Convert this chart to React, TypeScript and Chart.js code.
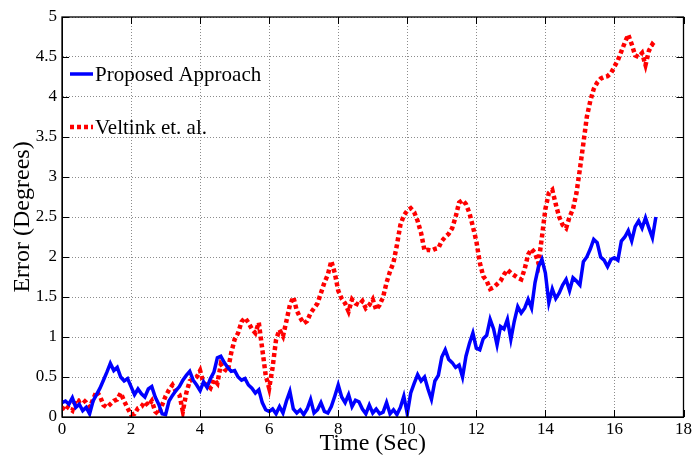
import { useEffect, useRef } from "react";
import { Chart, registerables } from "chart.js";

Chart.register(...registerables);

// sampling interval of the recorded series (seconds)
const SAMPLE_STEP = 0.1;

// Error (degrees) of the proposed approach, sampled every 0.1 s from t = 0
const proposedApproach = [
  0.18, 0.2, 0.16, 0.24, 0.12, 0.16, 0.08, 0.12, 0.04, 0.2,
  0.28, 0.36, 0.46, 0.56, 0.67, 0.58, 0.62, 0.5, 0.45, 0.48,
  0.38, 0.28, 0.35, 0.29, 0.25, 0.35, 0.38, 0.25, 0.16, 0.04,
  0.03, 0.2, 0.27, 0.33, 0.38, 0.46, 0.52, 0.57, 0.46, 0.4,
  0.33, 0.44, 0.37, 0.48, 0.56, 0.74, 0.76, 0.68, 0.62, 0.57,
  0.58, 0.5, 0.46, 0.48, 0.4, 0.36, 0.3, 0.34, 0.18, 0.09,
  0.07, 0.1, 0.04, 0.13, 0.05, 0.2, 0.32, 0.1, 0.05, 0.09,
  0.03, 0.1, 0.22, 0.05, 0.09, 0.18, 0.07, 0.05, 0.13, 0.26,
  0.4, 0.25, 0.18, 0.28, 0.13, 0.21, 0.19, 0.1, 0.04, 0.15,
  0.05, 0.1, 0.04, 0.06, 0.18, 0.04, 0.09, 0.03, 0.12, 0.26,
  0.04, 0.3, 0.42, 0.53, 0.45, 0.5, 0.35, 0.22, 0.45, 0.52,
  0.75, 0.84, 0.72, 0.68, 0.62, 0.65, 0.5, 0.76, 0.92, 1.05,
  0.86, 0.84, 0.98, 1.02, 1.22, 1.1, 0.9, 1.13, 1.1, 1.22,
  0.97, 1.2, 1.38, 1.3, 1.36, 1.47, 1.36, 1.68, 1.88, 1.97,
  1.8, 1.43, 1.6, 1.48, 1.55, 1.65, 1.72, 1.58, 1.74, 1.7,
  1.65, 1.94, 2.0, 2.1, 2.22, 2.18, 2.0, 1.96, 1.88, 1.97,
  1.99, 1.96, 2.2, 2.25, 2.33, 2.2, 2.38, 2.45, 2.36, 2.49,
  2.36, 2.24, 2.5,
];

// Error (degrees) of Veltink et. al., sampled every 0.1 s from t = 0
const veltinkEtAl = [
  0.09, 0.15, 0.11, 0.08, 0.22, 0.2, 0.22, 0.18, 0.12, 0.22,
  0.32, 0.26, 0.15, 0.12, 0.16, 0.2, 0.22, 0.3, 0.2, 0.11,
  0.03, 0.04, 0.11, 0.13, 0.19, 0.14, 0.2, 0.07, 0.03, 0.15,
  0.26, 0.34, 0.4, 0.32, 0.28, 0.07, 0.3, 0.45, 0.47, 0.5,
  0.58, 0.42, 0.4, 0.36, 0.47, 0.42, 0.66, 0.6, 0.57, 0.8,
  0.97, 1.05, 1.19, 1.24, 1.18, 1.1, 1.05, 1.18, 0.85, 0.52,
  0.36, 0.62, 0.97, 1.09, 1.01, 1.2, 1.4, 1.5, 1.33, 1.24,
  1.17, 1.2, 1.3, 1.36, 1.42, 1.55, 1.68, 1.78, 1.95, 1.8,
  1.58, 1.48, 1.42, 1.32, 1.47, 1.42, 1.4, 1.45, 1.36, 1.4,
  1.47, 1.34, 1.4, 1.5, 1.68, 1.82, 1.93, 2.15, 2.4, 2.52,
  2.58, 2.61, 2.56, 2.45, 2.3, 2.08, 2.09, 2.08, 2.1, 2.11,
  2.2, 2.25, 2.29, 2.36, 2.5, 2.68, 2.71, 2.66, 2.55, 2.38,
  2.2, 1.93, 1.76, 1.7, 1.6, 1.62, 1.66, 1.7, 1.78, 1.84,
  1.8, 1.77, 1.74, 1.72, 1.85, 2.03, 2.1, 2.05, 1.92, 2.25,
  2.6, 2.8, 2.84, 2.66, 2.5, 2.4, 2.36, 2.5, 2.6, 2.8,
  3.1, 3.42, 3.75, 3.95, 4.1, 4.18, 4.23, 4.25, 4.26, 4.3,
  4.38, 4.46, 4.57, 4.68, 4.78, 4.66, 4.52, 4.5, 4.55, 4.4,
  4.58, 4.66, 4.62,
];

const seriesLabels = ["Proposed Approach", "Veltink et. al."];
const xTickValues = [0, 2, 4, 6, 8, 10, 12, 14, 16, 18];
const yTickValues = [0, 0.5, 1, 1.5, 2, 2.5, 3, 3.5, 4, 4.5, 5];

const FONT = "'Liberation Serif', 'Times New Roman', serif";

function toPoints(values: number[]) {
  return values.map((v, i) => ({ x: Math.round(i * SAMPLE_STEP * 10) / 10, y: v }));
}

const boxAndTicksPlugin = {
  id: "boxAndTicks",
  afterDraw(chart: any) {
    const { ctx, chartArea } = chart;
    const { left, right, top, bottom } = chartArea;
    const xs = chart.scales.x;
    const ys = chart.scales.y;
    const len = 7;
    ctx.save();
    ctx.strokeStyle = "#000";
    ctx.lineWidth = 1;
    ctx.beginPath();
    xTickValues.forEach((v) => {
      const px = Math.round(xs.getPixelForValue(v)) + 0.5;
      ctx.moveTo(px, bottom);
      ctx.lineTo(px, bottom - len);
      ctx.moveTo(px, top);
      ctx.lineTo(px, top + len);
    });
    yTickValues.forEach((v) => {
      const py = Math.round(ys.getPixelForValue(v)) + 0.5;
      ctx.moveTo(left, py);
      ctx.lineTo(left + len, py);
      ctx.moveTo(right, py);
      ctx.lineTo(right - len, py);
    });
    ctx.stroke();
    ctx.lineWidth = 1.3;
    ctx.strokeRect(left, top, right - left, bottom - top);
    ctx.restore();
  },
};

const insideLegendPlugin = {
  id: "insideLegend",
  afterDraw(chart: any) {
    const { ctx, chartArea } = chart;
    const x0 = chartArea.left + 8;
    const rows = [74, 127];
    ctx.save();
    chart.data.datasets.forEach((ds: any, i: number) => {
      const y = rows[i];
      ctx.beginPath();
      ctx.strokeStyle = ds.borderColor;
      ctx.lineWidth = ds.borderWidth;
      ctx.setLineDash(ds.borderDash || []);
      ctx.lineCap = "butt";
      ctx.moveTo(x0, y);
      ctx.lineTo(x0 + 23, y);
      ctx.stroke();
      ctx.setLineDash([]);
      ctx.fillStyle = "#000";
      ctx.font = `21px ${FONT}`;
      ctx.textBaseline = "middle";
      ctx.textAlign = "left";
      ctx.fillText(ds.label, x0 + 25, y + 1);
    });
    ctx.restore();
  },
};

export default function App() {
  const canvasRef = useRef<HTMLCanvasElement | null>(null);

  useEffect(() => {
    if (!canvasRef.current) return;
    const chart = new Chart(canvasRef.current, {
      type: "line",
      data: {
        datasets: [
          {
            label: seriesLabels[0],
            data: toPoints(proposedApproach),
            borderColor: "#0000ff",
            borderWidth: 3.5,
            pointRadius: 0,
            tension: 0,
            fill: false,
          },
          {
            label: seriesLabels[1],
            data: toPoints(veltinkEtAl),
            borderColor: "#ff0000",
            borderWidth: 4.5,
            borderDash: [4, 3],
            borderCapStyle: "butt",
            pointRadius: 0,
            tension: 0,
            fill: false,
          },
        ],
      },
      options: {
        animation: false,
        responsive: false,
        layout: { padding: { top: 17, right: 7, left: 0, bottom: 0 } },
        plugins: {
          legend: { display: false },
          tooltip: { enabled: false },
        },
        scales: {
          x: {
            type: "linear",
            min: 0,
            max: 18,
            afterFit: (s: any) => {
              s.height = 41;
            },
            afterBuildTicks: (s: any) => {
              s.ticks = xTickValues.map((v) => ({ value: v }));
            },
            ticks: {
              color: "#000",
              font: { family: FONT, size: 17 },
              padding: 2,
              maxRotation: 0,
              callback: (v: any) => String(v),
            },
            grid: {
              color: "rgba(0,0,0,0.45)",
              lineWidth: 1,
              drawTicks: false,
            },
            border: { display: true, color: "#000", width: 1, dash: [1, 2] },
            title: {
              display: true,
              text: "Time (Sec)",
              color: "#000",
              font: { family: FONT, size: 24 },
              padding: { top: 0, bottom: 0 },
            },
          },
          y: {
            type: "linear",
            min: 0,
            max: 5,
            afterFit: (s: any) => {
              s.width = 62;
            },
            afterBuildTicks: (s: any) => {
              s.ticks = yTickValues.map((v) => ({ value: v }));
            },
            ticks: {
              color: "#000",
              font: { family: FONT, size: 17 },
              padding: 5,
              callback: (v: any) => String(v),
            },
            grid: {
              color: "rgba(0,0,0,0.45)",
              lineWidth: 1,
              drawTicks: false,
            },
            border: { display: true, color: "#000", width: 1, dash: [1, 2] },
            title: {
              display: true,
              text: "Error (Degrees)",
              color: "#000",
              font: { family: FONT, size: 24 },
              padding: { top: 8, bottom: 0 },
            },
          },
        },
      },
      plugins: [boxAndTicksPlugin, insideLegendPlugin],
    } as any);
    return () => chart.destroy();
  }, []);

  return (
    <div style={{ position: "fixed", left: 0, top: 0, width: 694, height: 458, background: "#fff" }}>
      <canvas ref={canvasRef} width={694} height={458} style={{ display: "block" }} />
    </div>
  );
}
